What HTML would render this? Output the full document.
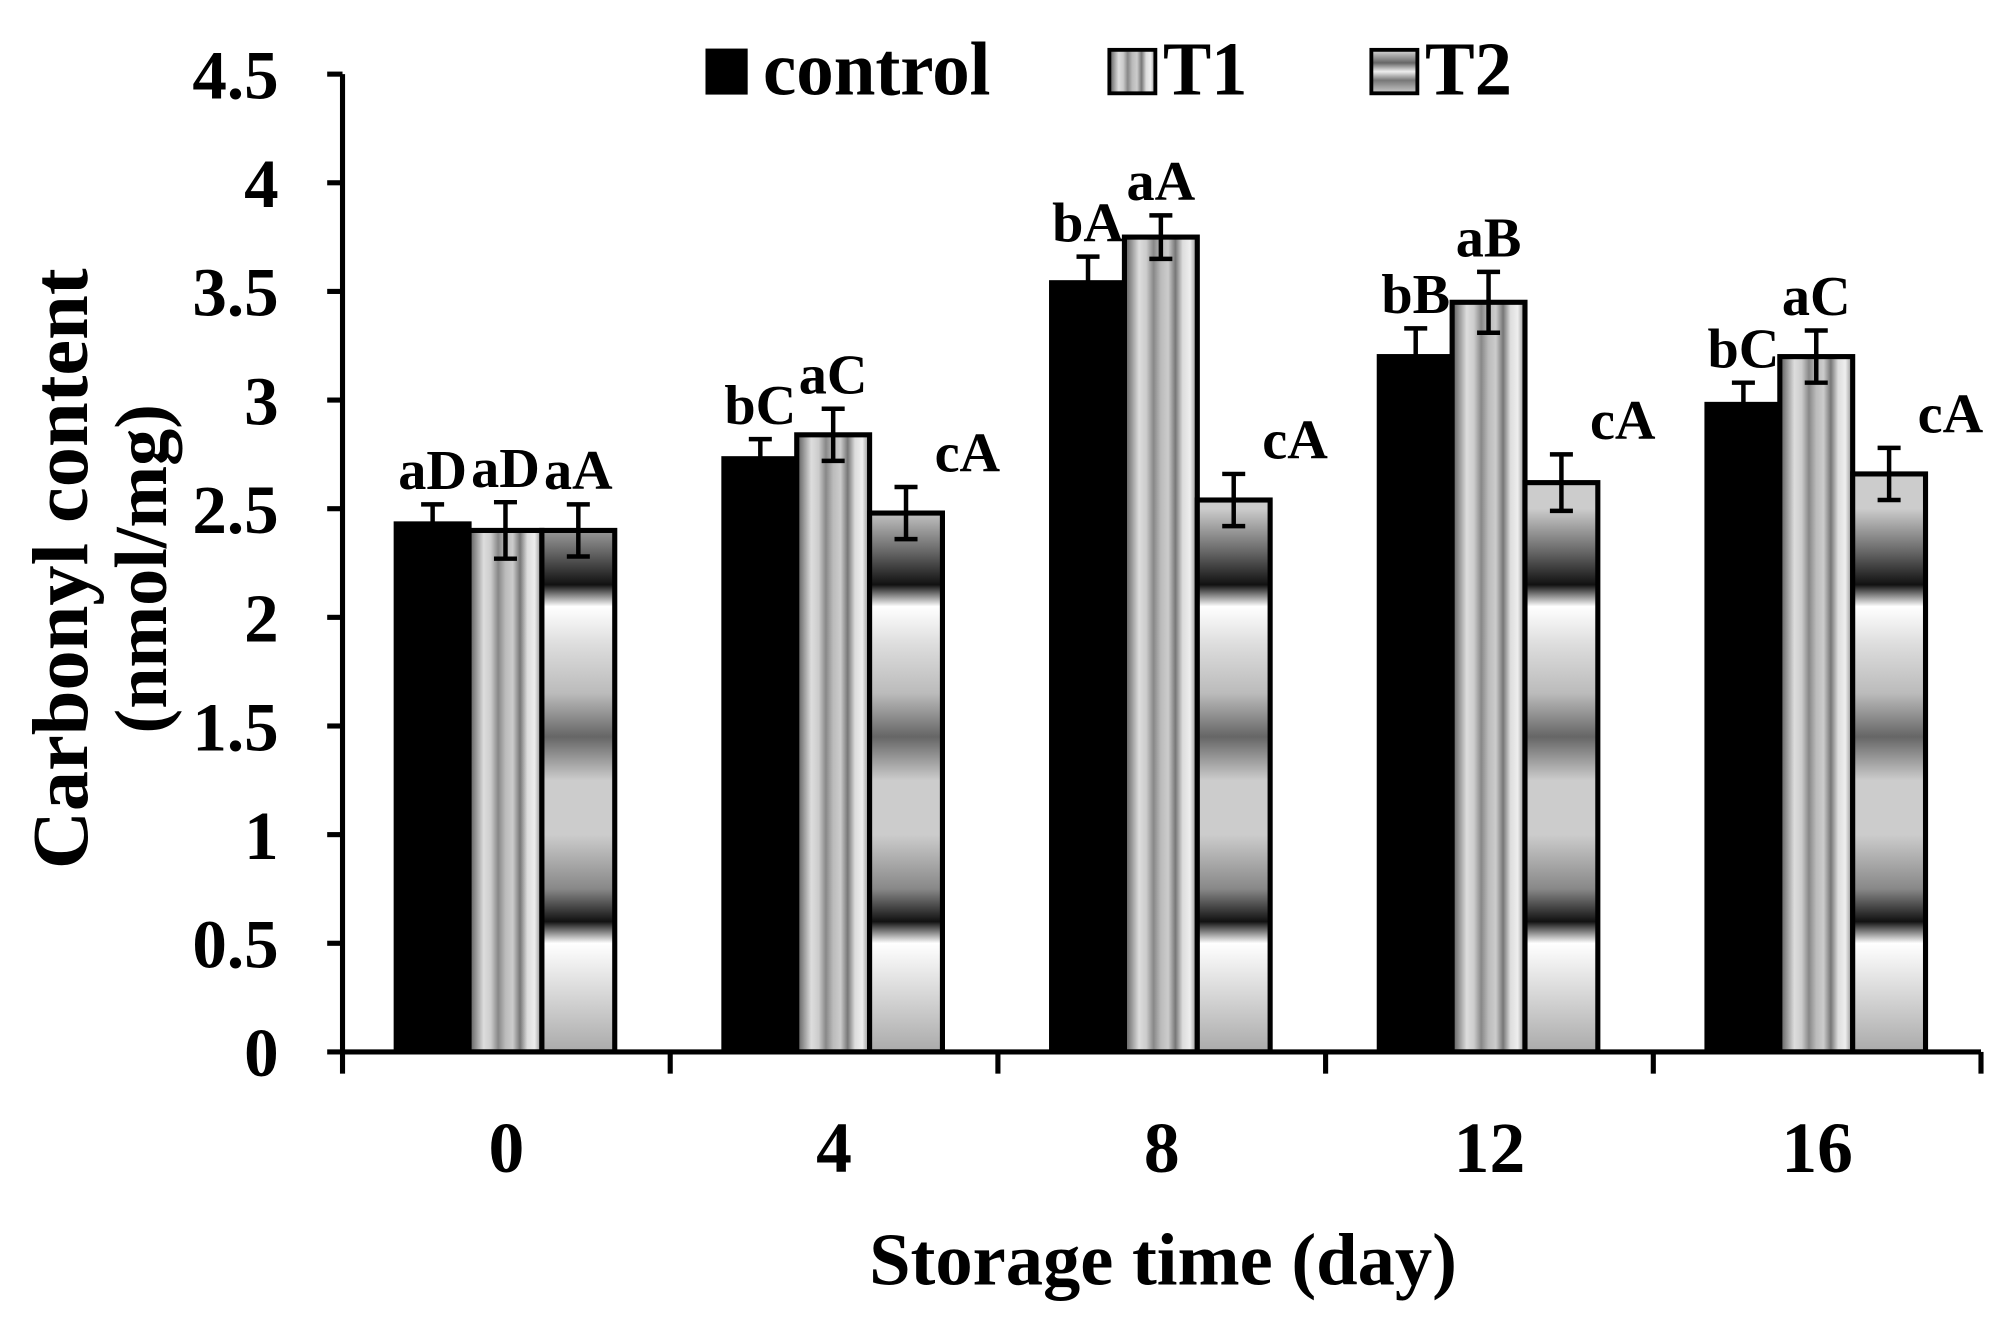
<!DOCTYPE html>
<html><head><meta charset="utf-8"><style>
html,body{margin:0;padding:0;background:#fff;}
svg{display:block;}
text{font-family:"Liberation Serif",serif;font-weight:bold;fill:#000;}
</style></head><body>
<svg id="chart" width="2004" height="1328" viewBox="0 0 1568 1039" preserveAspectRatio="none" xmlns="http://www.w3.org/2000/svg">
<defs>
<linearGradient id="t1grad" x1="0" y1="0" x2="1" y2="0">
<stop offset="0" stop-color="#555"/><stop offset="0.1" stop-color="#999"/><stop offset="0.2" stop-color="#ddd"/>
<stop offset="0.3" stop-color="#ccc"/><stop offset="0.4" stop-color="#888"/><stop offset="0.5" stop-color="#bbb"/>
<stop offset="0.6" stop-color="#ccc"/><stop offset="0.7" stop-color="#777"/><stop offset="0.8" stop-color="#ddd"/>
<stop offset="0.9" stop-color="#eee"/><stop offset="1" stop-color="#888"/>
</linearGradient>
<linearGradient id="t2grad" gradientUnits="userSpaceOnUse" x1="0" y1="823" x2="0" y2="398">
<stop offset="0" stop-color="#aaa"/><stop offset="0.2" stop-color="#fff"/><stop offset="0.24" stop-color="#111"/>
<stop offset="0.3" stop-color="#888"/><stop offset="0.4" stop-color="#ccc"/><stop offset="0.5" stop-color="#ccc"/>
<stop offset="0.58" stop-color="#666"/><stop offset="0.66" stop-color="#bbb"/><stop offset="0.75" stop-color="#ddd"/>
<stop offset="0.82" stop-color="#fff"/><stop offset="0.86" stop-color="#111"/><stop offset="0.92" stop-color="#666"/>
<stop offset="1" stop-color="#ccc"/>
</linearGradient>
<linearGradient id="legT2" x1="0" y1="0" x2="0" y2="1">
<stop offset="0" stop-color="#ddd"/><stop offset="0.3" stop-color="#666"/><stop offset="0.5" stop-color="#eee"/><stop offset="0.7" stop-color="#777"/><stop offset="1" stop-color="#ccc"/>
</linearGradient>
</defs>
<g id="plot"></g>
</svg>
<script>
const categories = ["0","4","8","12","16"];
const controlVals = [2.43, 2.73, 3.54, 3.20, 2.98];
const t1Vals = [2.40, 2.84, 3.75, 3.45, 3.20];
const t2Vals = [2.40, 2.48, 2.54, 2.62, 2.66];
const controlErr = [0.09, 0.09, 0.12, 0.13, 0.10];
const t1Err = [0.13, 0.12, 0.10, 0.14, 0.12];
const t2Err = [0.12, 0.12, 0.12, 0.13, 0.12];
const controlLabels = ["aD","bC","bA","bB","bC"];
const t1Labels = ["aD","aC","aA","aB","aC"];
const t2Labels = ["aA","cA","cA","cA","cA"];
const yTicks = [0,0.5,1,1.5,2,2.5,3,3.5,4,4.5];
const yTickLabels = ["0","0.5","1","1.5","2","2.5","3","3.5","4","4.5"];

const NS="http://www.w3.org/2000/svg";
const g=document.getElementById('plot');
const X0=268, X1=1550, Y0=823, PERU=170;
const catW=(X1-X0)/categories.length;
const y=v=>Y0-v*PERU;
const xCat=i=>X0+i*catW;
function mk(tag,attrs,parent){const e=document.createElementNS(NS,tag);for(const k in attrs)e.setAttribute(k,attrs[k]);(parent||g).appendChild(e);return e;}

const series=[
 {name:'control',vals:controlVals,err:controlErr,labels:controlLabels,fill:'#000'},
 {name:'t1',vals:t1Vals,err:t1Err,labels:t1Labels,fill:'url(#t1grad)'},
 {name:'t2',vals:t2Vals,err:t2Err,labels:t2Labels,fill:'url(#t2grad)'}
];
const bw=57;
categories.forEach((c,i)=>{
  series.forEach((s,j)=>{
    const bx=xCat(i)+42+j*bw;
    const r=mk('rect',{x:bx,y:y(s.vals[i]),width:bw,height:Y0-y(s.vals[i]),fill:s.fill,stroke:'#000','stroke-width':4});
    
    
    const cx=bx+bw/2, yt=y(s.vals[i]+s.err[i]), yb=y(s.vals[i]-s.err[i]);
    const eg=mk('g',{stroke:'#000','stroke-width':3.5});
    
    
    mk('line',{x1:cx,y1:yt,x2:cx,y2:yb},eg);
    mk('line',{x1:cx-9,y1:yt,x2:cx+9,y2:yt},eg);
    mk('line',{x1:cx-9,y1:yb,x2:cx+9,y2:yb},eg);
    const lx=cx+(j===2&&i>0?48:0);
    const t=mk('text',{x:lx,y:yt-12,'text-anchor':'middle','font-size':44});
    t.textContent=s.labels[i];
    
    
  });
  const tl=mk('text',{x:xCat(i)+catW/2,y:917,'text-anchor':'middle','font-size':56});
  tl.textContent=c;
  
  
});
const ax=mk('g',{stroke:'#000','stroke-width':4});


mk('line',{x1:X0,y1:y(4.5),x2:X0,y2:Y0+2},ax);
mk('line',{x1:X0-2,y1:Y0,x2:X1,y2:Y0},ax);
for(let i=0;i<=categories.length;i++) mk('line',{x1:xCat(i),y1:Y0,x2:xCat(i),y2:Y0+17},ax);
yTicks.forEach((v,k)=>{
  mk('line',{x1:X0-12,y1:y(v),x2:X0,y2:y(v)},ax);
  const t=mk('text',{x:X0-50,y:y(v)+19,'text-anchor':'end','font-size':54});
  t.textContent=yTickLabels[k];
  
  
});
</script>
<svg style="position:absolute;left:0;top:0" width="2004" height="1328" viewBox="0 0 1568 1039" preserveAspectRatio="none" xmlns="http://www.w3.org/2000/svg">
<text x="680" y="1005" font-size="58" textLength="460" lengthAdjust="spacingAndGlyphs">Storage time (day)</text>
<g transform="translate(0,445) rotate(-90)">
<text x="-235" y="68" font-size="62" textLength="470" lengthAdjust="spacingAndGlyphs">Carbonyl content</text>
<text x="0" y="130" text-anchor="middle" font-size="58">(nmol/mg)</text>
</g>
<g>
<rect x="552" y="38" width="33" height="36" fill="#000"/>
<text x="597" y="74" font-size="60" textLength="178" lengthAdjust="spacingAndGlyphs">control</text>
<rect x="868" y="39" width="36" height="34" fill="url(#t1grad)" stroke="#000" stroke-width="3"/>
<text x="910" y="74" font-size="60" textLength="66" lengthAdjust="spacingAndGlyphs">T1</text>
<rect x="1073" y="39" width="36" height="34" fill="url(#legT2)" stroke="#000" stroke-width="3"/>
<text x="1115" y="74" font-size="60" textLength="68" lengthAdjust="spacingAndGlyphs">T2</text>
</g>
</svg>
</body></html>
